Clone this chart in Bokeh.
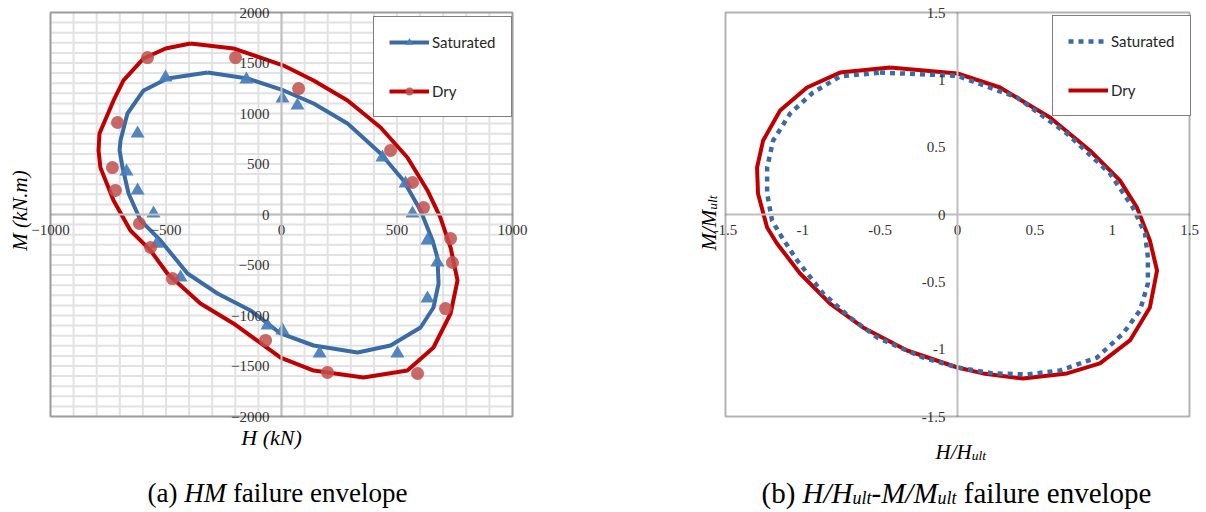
from math import pi
from bokeh.plotting import figure
from bokeh.models import Range1d, Label, Legend, LegendItem, FixedTicker, NumeralTickFormatter, BoxAnnotation
from bokeh.layouts import row
from bokeh.embed import file_html
from bokeh.resources import INLINE

# ---------------- data: panel (a) ----------------
h_ticks = [-1000, -500, 0, 500, 1000]
m_ticks = [-2000, -1500, -1000, -500, 0, 500, 1000, 1500, 2000]

sat_H = [-502, -152, 4, 69, -623, -671, -623, -554, -540, -437, -61, 4, 165, 502, 632, 675, 632, 567, 537, 437]
sat_M = [1356, 1337, 1148, 1079, 802, 426, 238, 10, -290, -624, -1099, -1148, -1376, -1376, -832, -475, -257, 10, 307, 564]

dry_H = [-580, -199, 74, -710, -732, -719, -615, -567, -472, -69, 199, 589, 710, 740, 732, 615, 567, 472]
dry_M = [1554, 1554, 1247, 911, 465, 238, -89, -327, -634, -1247, -1564, -1574, -931, -475, -238, 69, 317, 634]

sat_fit_H = [-320, -147, 9, 139, 286, 429, 528, 602, 654, 675, 680, 658, 602, 472, 329, 139, -4, -134, -277,
             -407, -524, -610, -662, -688, -701, -697, -667, -597, -494]
sat_fit_M = [1406, 1347, 1228, 1099, 901, 604, 337, 40, -257, -426, -683, -921, -1119, -1297, -1366, -1297, -1178,
             -950, -782, -584, -257, -59, 208, 465, 634, 733, 1000, 1228, 1347]

dry_fit_H = [-394, -208, 9, 139, 286, 429, 545, 632, 688, 732, 762, 732, 658, 545, 355, 139, -4, -208, -351, -494,
             -567, -654, -727, -784, -792, -788, -727, -684, -597, -502]
dry_fit_M = [1693, 1644, 1475, 1327, 1129, 861, 564, 238, -30, -327, -653, -980, -1317, -1545, -1614, -1545, -1416,
             -1079, -881, -584, -356, -158, 139, 465, 634, 802, 1129, 1327, 1545, 1644]

# ---------------- data: panel (b) ----------------
n_ticks = [-1.5, -1, -0.5, 0, 0.5, 1, 1.5]

norm_sat_H = [-0.501, 0.0, 0.385, 0.708, 0.986, 1.134, 1.212, 1.231, 1.231, 1.180, 1.070, 0.902, 0.663, 0.449, 0.229,
              0.0, -0.223, -0.520, -0.695, -0.869, -1.037, -1.134, -1.199, -1.231, -1.231, -1.192, -1.082, -0.934, -0.760]
norm_sat_M = [1.054, 1.030, 0.869, 0.601, 0.304, 0.052, -0.141, -0.319, -0.512, -0.713, -0.884, -1.062, -1.158, -1.188,
              -1.180, -1.136, -1.062, -0.913, -0.765, -0.586, -0.341, -0.171, -0.045, 0.156, 0.349, 0.549, 0.750, 0.906, 1.025]

norm_dry_H = [-0.436, 0.0, 0.275, 0.598, 0.856, 1.050, 1.160, 1.244, 1.290, 1.244, 1.115, 0.921, 0.708, 0.423, 0.165,
              0.0, -0.326, -0.611, -0.824, -1.018, -1.167, -1.231, -1.290, -1.296, -1.257, -1.147, -0.973, -0.760]
norm_dry_M = [1.091, 1.047, 0.943, 0.720, 0.475, 0.253, 0.052, -0.193, -0.416, -0.690, -0.935, -1.106, -1.180, -1.218,
              -1.180, -1.136, -1.010, -0.839, -0.661, -0.438, -0.215, -0.097, 0.156, 0.349, 0.549, 0.772, 0.943, 1.054]

series_labels = ["Saturated", "Dry"]

BLUE_LINE = "#3b6ba5"
BLUE_MARK = "#4a7ebb"
RED_LINE = "#c00000"
RED_MARK = "#c0504d"
SERIF = "Liberation Serif"
TICK_COLOR = "#333333"

FIG_W, FIG_H = 603, 512


def closed(a):
    return list(a) + [a[0]]


class Panel:
    """Figure whose frame is the whole canvas; the plot box sits at a chosen pixel rectangle."""

    def __init__(self, xlim, ylim, box_px, offset):
        left, top, right, bottom = box_px
        self.offset = offset
        kx = (right - left) / (xlim[1] - xlim[0])
        ky = (bottom - top) / (ylim[1] - ylim[0])
        self.kx, self.ky = kx, ky
        self.x0 = xlim[0] - left / kx
        self.y1 = ylim[1] + top / ky
        x1 = xlim[1] + (FIG_W - right) / kx
        y0 = ylim[0] - (FIG_H - bottom) / ky
        self.p = figure(width=FIG_W, height=FIG_H, x_range=Range1d(self.x0, x1), y_range=Range1d(y0, self.y1),
                        output_backend="svg", toolbar_location=None, min_border=0,
                        min_border_left=0, min_border_right=0, min_border_top=0, min_border_bottom=0)
        p = self.p
        p.outline_line_color = None
        p.background_fill_color = "white"
        p.border_fill_color = "white"
        p.grid.visible = False

    def d(self, px, py):
        cx = px - self.offset
        return self.x0 + cx / self.kx, self.y1 - py / self.ky


def style_axes(pn, ticks_x, ticks_y):
    p = pn.p
    p.xaxis.fixed_location = 0
    p.yaxis.fixed_location = 0
    p.xaxis.ticker = FixedTicker(ticks=ticks_x)
    p.yaxis.ticker = FixedTicker(ticks=ticks_y)
    p.xaxis.bounds = (ticks_x[0], ticks_x[-1])
    p.yaxis.bounds = (ticks_y[0], ticks_y[-1])
    for ax in (p.xaxis, p.yaxis):
        ax.axis_line_color = "#bfbfbf"
        ax.axis_line_width = 2
        ax.major_tick_line_color = None
        ax.minor_tick_line_color = None
        ax.major_tick_out = 0
        ax.major_tick_in = 0
        ax.minor_tick_out = 0
        ax.minor_tick_in = 0
        ax.major_label_text_font = SERIF
        ax.major_label_text_font_size = "15px"
        ax.major_label_text_color = TICK_COLOR
    p.xaxis.major_label_standoff = 10
    p.yaxis.major_label_standoff = 12
    p.add_layout(BoxAnnotation(left=ticks_x[0], right=ticks_x[-1], bottom=ticks_y[0], top=ticks_y[-1],
                               fill_color=None, fill_alpha=0, line_color="black", line_width=2, level="overlay"))


def make_legend(p, items, loc):
    leg = Legend(items=items, location=loc, orientation="vertical")
    leg.border_line_color = "black"
    leg.border_line_width = 1.5
    leg.background_fill_color = "white"
    leg.background_fill_alpha = 1
    leg.padding = 15
    leg.spacing = 29
    leg.margin = 0
    leg.glyph_width = 40
    leg.glyph_height = 20
    leg.label_height = 20
    leg.label_standoff = 3
    leg.label_text_font = "Lato"
    leg.label_text_font_size = "15px"
    leg.label_text_color = "#262626"
    leg.label_text_baseline = "middle"
    p.add_layout(leg)


def add_text(p, x, y, text, size, italic=False, align="left", baseline="alphabetic", angle=0):
    p.add_layout(Label(x=x, y=y, text=text, text_font=SERIF, text_font_size=f"{size}px",
                       text_font_style="italic" if italic else "normal", text_color="black",
                       text_align=align, text_baseline=baseline, angle=angle))


# Times/Liberation Serif advance widths (em) for composing mixed-style captions
W = {"(": .333, ")": .333, " ": .25, "a": .444, "b": .5, "f": .333, "i": .278, "l": .278, "u": .5, "r": .333,
     "e": .444, "n": .5, "v": .5, "o": .5, "p": .5, "t": .278, "-": .333}
WI = {"H": .722, "M": .833, "/": .278, "u": .5, "l": .278, "t": .278, "-": .333, " ": .25}


def width(text, size, italic=False):
    tbl = WI if italic else W
    return sum(tbl.get(c, .5) for c in text) * size


def compose(pn, parts, center_x, base_y):
    """parts: (text, italic, size, baseline shift); spaces are advanced, not drawn."""
    total = sum(width(t, s, it) for t, it, s, _ in parts)
    cx = center_x - total / 2
    for t, it, s, dy in parts:
        lead = len(t) - len(t.lstrip(" "))
        body = t.strip(" ")
        x0 = cx + width(" " * lead, s, it)
        if body:
            x, y = pn.d(x0, base_y + dy)
            add_text(pn.p, x, y, body, s, italic=it)
        cx += width(t, s, it)


# ================= panel (a) =================
A = Panel((h_ticks[0], h_ticks[-1]), (m_ticks[0], m_ticks[-1]), (50, 12, 512, 416), 0)
p1 = A.p
gx = list(range(h_ticks[0], h_ticks[-1] + 1, 100))
gy = list(range(m_ticks[0], m_ticks[-1] + 1, 100))
p1.segment(x0=gx, y0=[m_ticks[0]] * len(gx), x1=gx, y1=[m_ticks[-1]] * len(gx), line_color="#e2e2e2", line_width=2)
p1.segment(x0=[h_ticks[0]] * len(gy), y0=gy, x1=[h_ticks[-1]] * len(gy), y1=gy, line_color="#e2e2e2", line_width=2)
style_axes(A, h_ticks, m_ticks)

l_sat = p1.line(closed(sat_fit_H), closed(sat_fit_M), line_color=BLUE_LINE, line_width=4, line_join="round")
l_dry = p1.line(closed(dry_fit_H), closed(dry_fit_M), line_color=RED_LINE, line_width=4, line_join="round")
s_sat = p1.scatter(sat_H, sat_M, marker="triangle", size=14, fill_color=BLUE_MARK, line_color=None, fill_alpha=0.95)
s_dry = p1.scatter(dry_H, dry_M, marker="circle", size=13, fill_color=RED_MARK, line_color=None, fill_alpha=0.85)

make_legend(p1, [LegendItem(label=series_labels[0], renderers=[l_sat, s_sat]),
                 LegendItem(label=series_labels[1], renderers=[l_dry, s_dry])], (373, 512 - 117))

x, y = A.d(271, 437)
add_text(p1, x, y, "H (kN)", 22, italic=True, align="center", baseline="middle")
x, y = A.d(19, 210)
add_text(p1, x, y, "M (kN.m)", 21, italic=True, align="center", baseline="middle", angle=pi / 2)

compose(A, [("(a) ", False, 27, 0), ("HM", True, 27, 0), (" failure envelope", False, 27, 0)], 277, 492)

# ================= panel (b) =================
B = Panel((n_ticks[0], n_ticks[-1]), (n_ticks[0], n_ticks[-1]), (122, 12, 586, 416), 603)
p2 = B.p
style_axes(B, n_ticks, n_ticks)
p2.xaxis.formatter = NumeralTickFormatter(format="0.[0]")
p2.yaxis.formatter = NumeralTickFormatter(format="0.[0]")

n_dry = p2.line(closed(norm_dry_H), closed(norm_dry_M), line_color=RED_LINE, line_width=4, line_join="round")
n_sat = p2.line(closed(norm_sat_H), closed(norm_sat_M), line_color=BLUE_LINE, line_width=4.5,
                line_dash="5 5", line_cap="butt")

make_legend(p2, [LegendItem(label=series_labels[0], renderers=[n_sat]),
                 LegendItem(label=series_labels[1], renderers=[n_dry])], (1052 - 603, 512 - 116))

TS = 21
SUB = 13.5
px = 935
x, y = B.d(px, 451)
add_text(p2, x, y, "H/H", TS, italic=True)
px += width("H/H", TS, True)
x, y = B.d(px, 455)
add_text(p2, x, y, "ult", SUB, italic=True)

py = 250
x, y = B.d(708, py)
add_text(p2, x, y, "M/M", TS, italic=True, angle=pi / 2)
py -= width("M/M", TS, True)
x, y = B.d(712, py)
add_text(p2, x, y, "ult", SUB, italic=True, angle=pi / 2)

CB, CS = 29, 18
compose(B, [("(b) ", False, CB, 0), ("H/H", True, CB, 0), ("ult", True, CS, 5), ("-M/M", True, CB, 0),
            ("ult", True, CS, 5), (" failure envelope", False, CB, 0)], 956, 492)

layout = row(p1, p2, spacing=0)
open("out.html", "w").write(file_html(layout, INLINE))
